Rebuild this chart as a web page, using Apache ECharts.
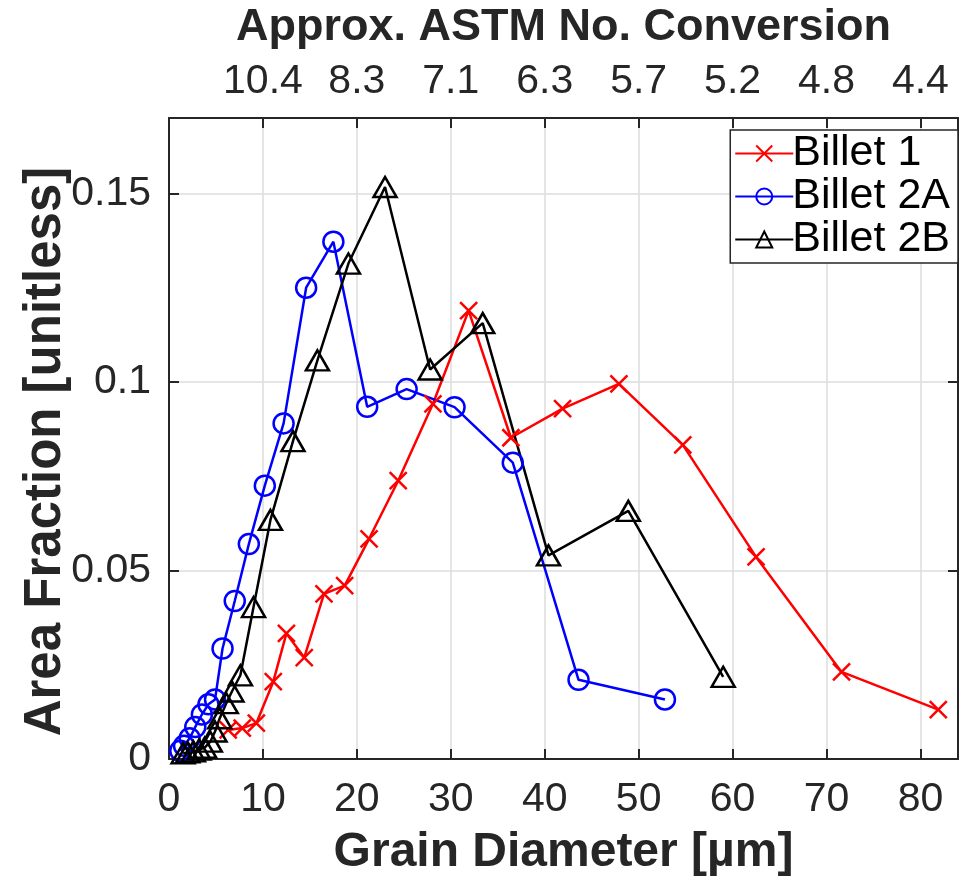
<!DOCTYPE html>
<html>
<head>
<meta charset="utf-8">
<script src="https://cdn.jsdelivr.net/npm/echarts@6/dist/echarts.min.js"></script>
<style>
  html, body { margin: 0; padding: 0; background: #fff; }
  #chart { width: 961px; height: 887px; }
</style>
</head>
<body>
<div id="chart"></div>
<script>
// Billet 1
var billet1X = [6.3, 7.8, 9.3, 11.1, 12.5, 14.4, 16.5, 18.7, 21.3, 24.4, 28.1, 31.9, 36.4, 41.9, 47.9, 54.7, 62.5, 71.6, 81.9];
var billet1Y = [0.0077, 0.0082, 0.0095, 0.0205, 0.0333, 0.0269, 0.0438, 0.046, 0.0584, 0.0738, 0.0942, 0.1189, 0.0852, 0.0929, 0.0995, 0.0833, 0.0536, 0.0231, 0.0131];
// Billet 2A
var billet2aX = [1.2, 1.6, 2.2, 2.8, 3.5, 4.2, 4.9, 5.7, 7.0, 8.5, 10.2, 12.2, 14.6, 17.5, 21.1, 25.3, 30.4, 36.6, 43.6, 52.8];
var billet2aY = [0.0022, 0.0035, 0.0055, 0.0085, 0.0118, 0.0145, 0.0158, 0.0293, 0.0419, 0.057, 0.0725, 0.089, 0.125, 0.1372, 0.0934, 0.0981, 0.0933, 0.0786, 0.021, 0.0158];
// Billet 2B
var billet2bX = [1.5, 2.0, 2.6, 3.2, 3.8, 4.4, 4.9, 5.4, 6.1, 6.7, 7.6, 9.0, 10.8, 13.2, 15.8, 19.1, 23.0, 27.8, 33.4, 40.4, 48.9, 59.0];
var billet2bY = [0.0015, 0.0018, 0.002, 0.0025, 0.003, 0.0046, 0.0073, 0.0108, 0.0148, 0.0179, 0.0222, 0.0403, 0.0634, 0.0843, 0.1057, 0.1314, 0.1517, 0.1033, 0.1156, 0.054, 0.0658, 0.0218];

// top axis: ASTM number at each grain diameter tick
var astmTicks = [10, 20, 30, 40, 50, 60, 70, 80];
var astmLabels = ['10.4', '8.3', '7.1', '6.3', '5.7', '5.2', '4.8', '4.4'];

function pairs(xs, ys) {
  var out = [];
  for (var i = 0; i < xs.length; i++) out.push([xs[i], ys[i]]);
  return out;
}

var FONT = '"Liberation Sans", Arial, sans-serif';
var AX = '#262626';

var chart = echarts.init(document.getElementById('chart'));

var axisCommon = {
  axisLine: { show: true, onZero: false, lineStyle: { color: AX, width: 2 } },
  axisTick: { show: true, inside: true, length: 10, lineStyle: { color: AX, width: 2 } }
};

chart.setOption({
  animation: false,
  backgroundColor: '#fff',
  textStyle: { fontFamily: FONT },
  grid: { left: 169, right: 1, top: 117, bottom: 128, containLabel: false },
  legend: {
    orient: 'vertical',
    right: 3,
    top: 130,
    padding: [2, 8, 2, 4],
    itemGap: 0,
    itemWidth: 58,
    itemHeight: 20,
    backgroundColor: '#fff',
    borderColor: AX,
    borderWidth: 1.5,
    borderRadius: 0,
    textStyle: { fontFamily: FONT, fontSize: 43, color: '#000', padding: [0, 0, 0, -6] },
    data: ['Billet 1', 'Billet 2A', 'Billet 2B']
  },
  xAxis: [
    Object.assign({
      type: 'value',
      position: 'bottom',
      min: 0, max: 84, interval: 10,
      name: 'Grain Diameter [µm]',
      nameLocation: 'middle',
      nameGap: 70,
      nameTextStyle: { fontFamily: FONT, fontSize: 48, fontWeight: 'bold', color: AX },
      axisLabel: { fontFamily: FONT, fontSize: 41, color: AX, margin: 20,
        formatter: function (v) { return v % 10 === 0 ? String(v) : ''; } },
      splitLine: { show: true, lineStyle: { color: '#dcdcdc', width: 1.5 } }
    }, axisCommon),
    Object.assign({
      type: 'value',
      position: 'top',
      min: 0, max: 84, interval: 10,
      name: 'Approx. ASTM No. Conversion',
      nameLocation: 'middle',
      nameGap: 68,
      nameTextStyle: { fontFamily: FONT, fontSize: 45, fontWeight: 'bold', color: AX },
      axisLabel: { fontFamily: FONT, fontSize: 41, color: AX, margin: 16,
        formatter: function (v) {
          var i = astmTicks.indexOf(v);
          return i >= 0 ? astmLabels[i] : '';
        } },
      splitLine: { show: false }
    }, axisCommon)
  ],
  yAxis: [
    Object.assign({
      type: 'value',
      position: 'left',
      min: 0, max: 0.17, interval: 0.05,
      name: 'Area Fraction [unitless]',
      nameLocation: 'middle',
      nameGap: 98,
      nameMoveOverlap: false,
      nameTextStyle: { fontFamily: FONT, fontSize: 51, fontWeight: 'bold', color: AX, padding: [0, 26, 0, 0] },
      axisLabel: { fontFamily: FONT, fontSize: 41, color: AX, margin: 18,
        formatter: function (v) { return Math.round(v * 100) % 5 === 0 ? String(Math.round(v * 100) / 100) : ''; } },
      splitLine: { show: true, lineStyle: { color: '#dcdcdc', width: 1.5 } }
    }, axisCommon),
    Object.assign({
      type: 'value',
      position: 'right',
      min: 0, max: 0.17, interval: 0.05,
      axisLabel: { show: false },
      splitLine: { show: false }
    }, axisCommon)
  ],
  series: [
    {
      name: 'Billet 1',
      type: 'line',
      data: pairs(billet1X, billet1Y),
      symbol: 'path://M0,0L10,10M10,0L0,10',
      symbolSize: 17,
      lineStyle: { color: '#ff0000', width: 2.5 },
      itemStyle: { color: '#ff0000', borderColor: '#ff0000', borderWidth: 2.5 }
    },
    {
      name: 'Billet 2A',
      type: 'line',
      data: pairs(billet2aX, billet2aY),
      symbol: 'circle',
      symbolSize: 20,
      lineStyle: { color: '#0000ff', width: 2.5 },
      itemStyle: { color: 'rgba(0,0,0,0)', borderColor: '#0000ff', borderWidth: 2.5 }
    },
    {
      name: 'Billet 2B',
      type: 'line',
      data: pairs(billet2bX, billet2bY),
      symbol: 'triangle',
      symbolSize: [23, 20],
      lineStyle: { color: '#000000', width: 2.5 },
      itemStyle: { color: 'rgba(0,0,0,0)', borderColor: '#000000', borderWidth: 2.5 }
    }
  ]
});
</script>
</body>
</html>
